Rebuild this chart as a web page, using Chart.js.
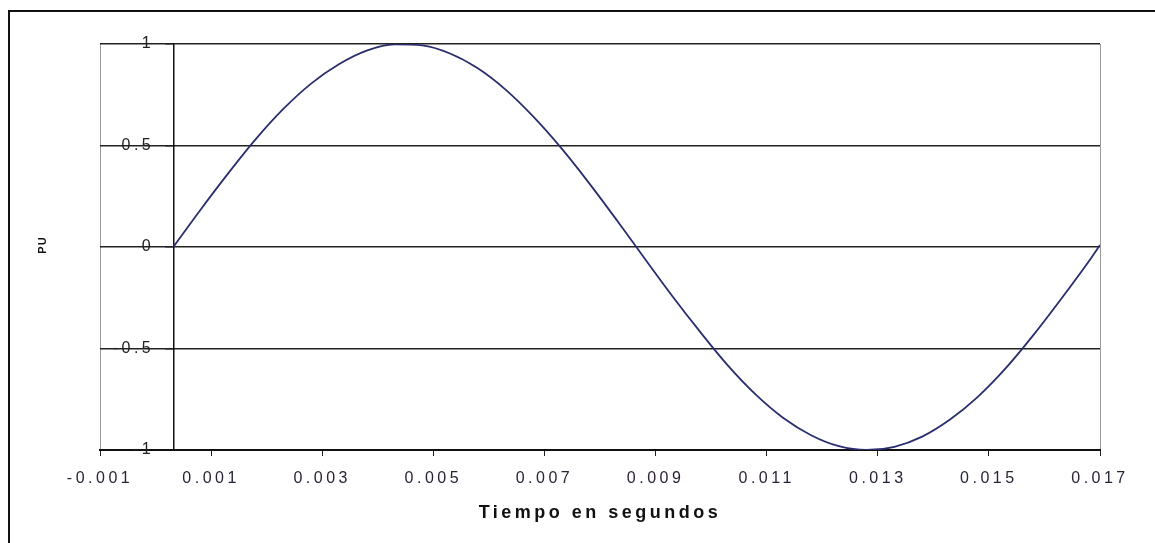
<!DOCTYPE html>
<html>
<head>
<meta charset="utf-8">
<script src="https://cdn.jsdelivr.net/npm/chart.js"></script>
<style>
  html, body { margin: 0; padding: 0; background: #fff; }
  #frame {
    position: absolute; left: 8px; top: 10px; width: 1160px; height: 560px;
    border-left: 2px solid #111; border-top: 2px solid #111;
  }
  #chart { position: absolute; left: 0; top: 0; }
</style>
</head>
<body>
<div id="frame"></div>
<canvas id="chart" width="1155" height="543"></canvas>
<script>
// time (s) and per-unit values
const timeValues = [
    0.00032, 0.0008, 0.0013, 0.0018, 0.0023, 0.0028, 0.0033, 0.0038, 0.0043,
    0.0048, 0.0053, 0.0058, 0.0063, 0.0068, 0.0073, 0.0078, 0.0083, 0.0088,
    0.0093, 0.0098, 0.0103, 0.0108, 0.0113, 0.0118, 0.0123, 0.0128, 0.0133,
    0.0138, 0.0143, 0.0148, 0.0153, 0.0158, 0.0163, 0.0168, 0.017
];
const puValues = [
    0, 0.18, 0.36, 0.53, 0.68, 0.805, 0.90, 0.967, 0.998,
    0.993, 0.953, 0.88, 0.775, 0.642, 0.488, 0.316, 0.133, -0.055,
    -0.241, -0.417, -0.583, -0.726, -0.842, -0.927, -0.981, -1.0, -0.984,
    -0.934, -0.85, -0.738, -0.598, -0.434, -0.256, -0.07, 0.01
];
const xTicks = [-0.001, 0.001, 0.003, 0.005, 0.007, 0.009, 0.011, 0.013, 0.015, 0.017];
const yTickLabels = { "1": "1", "0.5": "0.5", "0": "0", "-0.5": "-0.5", "-1": "-1" };
const yAxisAt = 0.00032;

const points = timeValues.map((t, i) => ({ x: t, y: puValues[i] }));

const spacing = {
    id: "spacing",
    beforeDraw(chart) {
        chart.ctx.letterSpacing = "3.5px";
    },
    afterDraw(chart) {
        const ctx = chart.ctx;
        ctx.save();
        ctx.letterSpacing = "1px";
        ctx.translate(43, 245);
        ctx.rotate(-Math.PI / 2);
        ctx.font = "bold 11px 'Liberation Sans', Arial, sans-serif";
        ctx.fillStyle = "#111";
        ctx.textAlign = "center";
        ctx.textBaseline = "middle";
        ctx.fillText("PU", 0, 0);
        ctx.restore();
    }
};

const ctx = document.getElementById("chart").getContext("2d");
new Chart(ctx, {
    type: "scatter",
    data: {
        datasets: [{
            data: points,
            showLine: true,
            borderColor: "#2a2d6e",
            borderWidth: 1.8,
            pointRadius: 0,
            cubicInterpolationMode: "monotone"
        }]
    },
    options: {
        responsive: false,
        animation: false,
        devicePixelRatio: 1,
        layout: { padding: { left: 100, right: 55, top: 44, bottom: 0 } },
        plugins: { legend: { display: false }, tooltip: { enabled: false } },
        scales: {
            x: {
                type: "linear",
                position: "bottom",
                min: -0.001,
                max: 0.017,
                afterBuildTicks: s => { s.ticks = xTicks.map(v => ({ value: v })); },
                afterFit: s => { s.height = 93; },
                grid: {
                    color: c => (c.index === 0 || c.index === xTicks.length - 1) ? "#9a9a9a" : "rgba(0,0,0,0)",
                    tickColor: "#222",
                    tickLength: 6,
                    lineWidth: 1
                },
                border: { color: "#111", width: 2 },
                ticks: {
                    padding: 13,
                    maxRotation: 0,
                    autoSkip: false,
                    color: "#2b2236",
                    font: { family: "'Liberation Sans', Arial, sans-serif", size: 16 },
                    callback: v => v.toFixed(3)
                },
                title: {
                    display: true,
                    text: "Tiempo en segundos",
                    color: "#111",
                    font: { family: "'Liberation Sans', Arial, sans-serif", size: 18, weight: "bold" },
                    padding: { top: 4, bottom: 19 }
                }
            },
            y: {
                type: "linear",
                position: { x: yAxisAt },
                min: -1,
                max: 1,
                ticks: {
                    stepSize: 0.5,
                    color: "#222",
                    font: { family: "'Liberation Sans', Arial, sans-serif", size: 16 },
                    // trailing gap keeps the labels clear of the axis line
                    callback: v => (yTickLabels[String(v)] || String(v)) + "\u2007\u2009"
                },
                grid: { color: "#222", lineWidth: 1.5, tickLength: 8 },
                border: { color: "#111", width: 1.5 }
            }
        }
    },
    plugins: [spacing]
});
</script>
</body>
</html>
